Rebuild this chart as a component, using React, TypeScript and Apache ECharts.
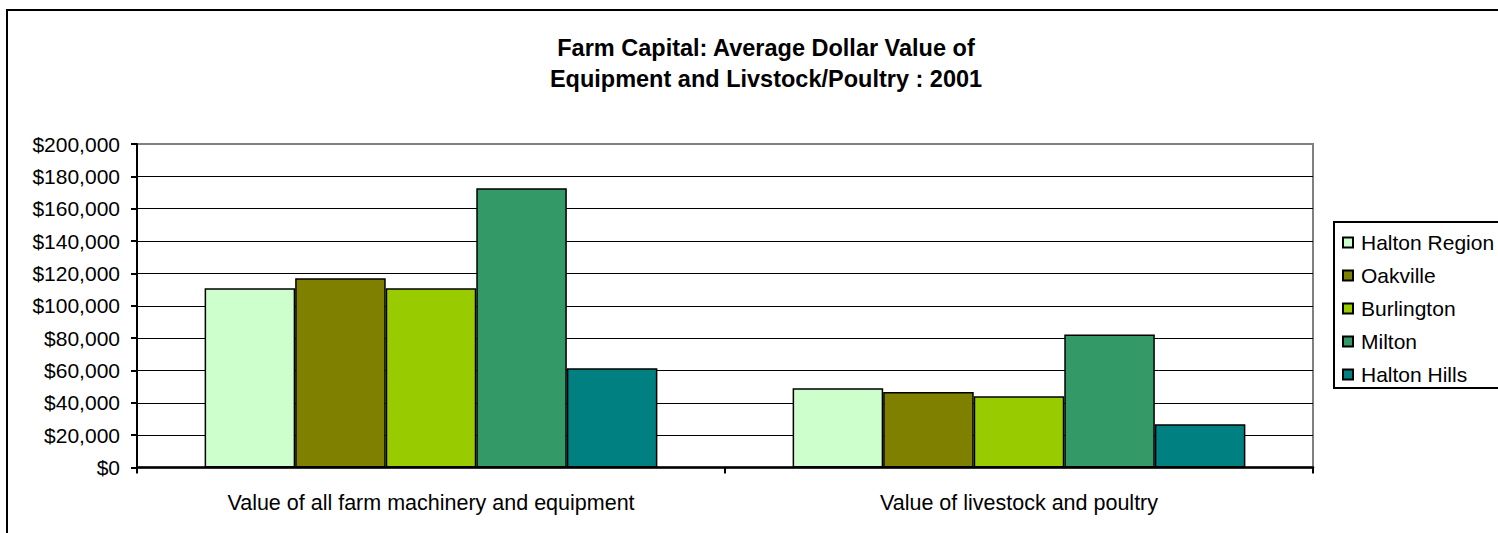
import React, { useEffect, useRef } from "react";
import * as echarts from "echarts";

const categories = [
  "Value of all farm machinery and equipment",
  "Value of livestock and poultry",
];
const seriesNames = ["Halton Region", "Oakville", "Burlington", "Milton", "Halton Hills"];
const haltonRegion = [110800, 49000];
const oakville = [117000, 46700];
const burlington = [110800, 44000];
const milton = [172600, 82300];
const haltonHills = [61300, 26700];
const seriesColors = ["#CCFFCC", "#808000", "#99CC00", "#339966", "#008080"];
const yMin = 0;
const yMax = 200000;
const yInterval = 20000;

const FONT = "'Liberation Sans', Arial, sans-serif";

export default function App() {
  const ref = useRef<HTMLDivElement>(null);
  useEffect(() => {
    if (!ref.current) return;
    const chart = echarts.init(ref.current, null, { renderer: "svg" });
    const values = [haltonRegion, oakville, burlington, milton, haltonHills];
    const splitColors: string[] = [];
    for (let v = yMin; v <= yMax; v += yInterval) {
      splitColors.push(v === yMax ? "#808080" : "#000000");
    }
    chart.setOption({
      animation: false,
      backgroundColor: "#ffffff",
      textStyle: { fontFamily: FONT },
      title: {
        text: "Farm Capital: Average Dollar Value of\nEquipment and Livstock/Poultry : 2001",
        left: 761,
        top: 27,
        textAlign: "center",
        textStyle: {
          fontFamily: FONT,
          fontSize: 23.5,
          fontWeight: "bold",
          color: "#000",
          lineHeight: 31,
        },
      },
      grid: {
        left: 137,
        top: 144,
        width: 1176,
        height: 323.5,
        containLabel: false,
        outerBoundsMode: "none",
        show: true,
        borderColor: "#808080",
        borderWidth: 2,
        backgroundColor: "transparent",
      },
      legend: {
        orient: "vertical",
        left: 1337,
        top: 227,
        itemWidth: 10,
        itemHeight: 10,
        itemGap: 12,
        icon: "rect",
        data: seriesNames,
        textStyle: { fontFamily: FONT, fontSize: 21, color: "#000", padding: [0, 0, 0, 3], lineHeight: 21 },
      },
      xAxis: {
        type: "category",
        data: categories,
        axisLine: { show: true, lineStyle: { color: "#000", width: 2.5 } },
        axisTick: { show: true, length: 6, lineStyle: { color: "#000", width: 2 } },
        axisLabel: { fontFamily: FONT, fontSize: 21.5, color: "#000", margin: 24 },
        splitLine: { show: false },
      },
      yAxis: {
        type: "value",
        min: yMin,
        max: yMax,
        interval: yInterval,
        axisLine: { show: true, lineStyle: { color: "#000", width: 2 } },
        axisTick: { show: true, length: 6, lineStyle: { color: "#000", width: 2 } },
        axisLabel: {
          fontFamily: FONT,
          fontSize: 21,
          color: "#000",
          margin: 17,
          formatter: (v: number) => "$" + v.toLocaleString("en-US"),
        },
        splitLine: { show: true, lineStyle: { color: splitColors, width: 1.2 } },
      },
      graphic: [
        {
          type: "rect",
          shape: { x: 7, y: 10, width: 1600, height: 700 },
          style: { fill: "none", stroke: "#000", lineWidth: 2 },
          silent: true,
        },
        {
          type: "rect",
          shape: { x: 1334, y: 222, width: 170, height: 166 },
          style: { fill: "none", stroke: "#000", lineWidth: 2 },
          silent: true,
        },
      ],
      series: seriesNames.map((name, i) => ({
        name,
        type: "bar",
        data: values[i],
        barGap: "0%",
        barCategoryGap: "23%",
        itemStyle: { color: seriesColors[i], borderColor: "#000", borderWidth: 1.5 },
      })),
    });
    return () => chart.dispose();
  }, []);
  return (
    <div
      ref={ref}
      style={{ position: "fixed", left: 0, top: 0, width: 1498, height: 533 }}
    />
  );
}
